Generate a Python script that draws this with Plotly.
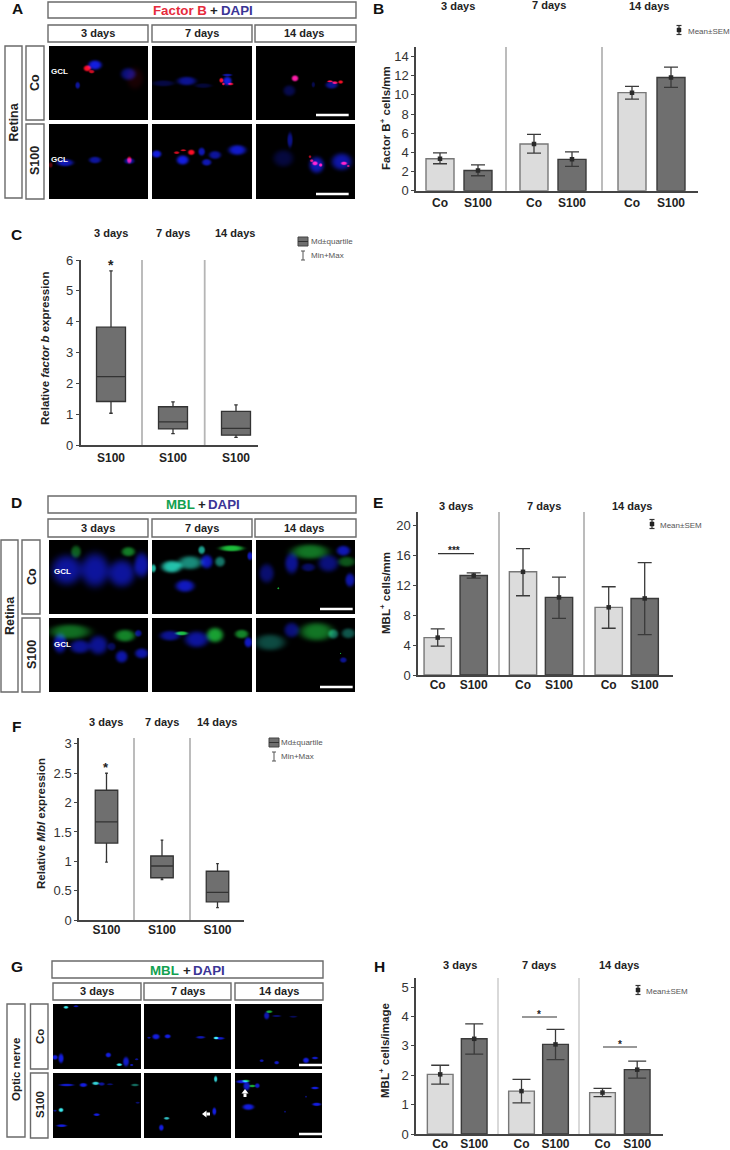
import numpy as np
import plotly.graph_objects as go

W, H = 730, 1150
FONT = "Liberation Sans"
RED, GREEN, INDIGO = "#e62b3c", "#12a150", "#3b3596"
LIGHT, DARK = "#dcdcdc", "#6f6f6f"
AX = "#444444"

# ---------- chart values ----------
DAYS = ["3 days", "7 days", "14 days"]
GROUPS = ["Co", "S100", "Co", "S100", "Co", "S100"]

B_mean = [3.35, 2.12, 4.88, 3.28, 10.24, 11.82]
B_top = [3.96, 2.70, 5.88, 4.07, 10.89, 12.90]
B_low = [2.82, 1.57, 3.93, 2.54, 9.57, 10.78]

E_mean = [5.0, 13.3, 13.8, 10.38, 9.05, 10.24]
E_top = [6.16, 13.66, 16.9, 13.08, 11.8, 15.03]
E_low = [3.86, 12.95, 10.6, 7.58, 6.25, 5.41]

H_mean = [2.03, 3.24, 1.46, 3.05, 1.41, 2.19]
H_top = [2.34, 3.75, 1.86, 3.56, 1.55, 2.48]
H_low = [1.70, 2.72, 1.06, 2.53, 1.27, 1.90]

C_q1 = [1.41, 0.52, 0.32]
C_med = [2.22, 0.75, 0.54]
C_q3 = [3.82, 1.24, 1.09]
C_min = [1.03, 0.37, 0.25]
C_max = [5.65, 1.40, 1.30]

F_q1 = [1.31, 0.72, 0.31]
F_med = [1.67, 0.92, 0.47]
F_q3 = [2.21, 1.09, 0.83]
F_min = [0.985, 0.69, 0.21]
F_max = [2.50, 1.36, 0.96]

# ---------- micrograph blobs: (cx, cy, rx, ry, colour, strength) on a 3x grid ----------
b, r, g, t, c = (20, 30, 225), (255, 15, 40), (30, 190, 60), (40, 215, 190), (60, 235, 240)
IMG_A = [
    [(285, 195, 20, 14, b, 1), (262, 205, 11, 9, r, 1), (275, 215, 8, 5, r, .8), (385, 222, 22, 18, b, .55), (233, 256, 7, 10, b, .7), (405, 235, 25, 32, r, .1)],
    [(560, 243, 28, 13, b, .65), (490, 250, 32, 9, b, .3), (610, 257, 25, 7, b, .25), (682, 243, 13, 13, b, 1), (664, 241, 6, 7, r, 1), (692, 252, 8, 4, r, .9), (670, 252, 4, 4, r, .9), (682, 225, 14, 4, b, .7)],
    [(885, 235, 10, 9, (255, 30, 170), 1), (868, 272, 18, 16, b, .35), (995, 255, 18, 11, b, .65), (990, 244, 8, 3, r, 1), (1005, 248, 8, 4, r, 1), (1022, 246, 7, 5, r, .95), (940, 254, 5, 8, b, .35)],
    [(195, 488, 25, 11, b, .8), (285, 480, 18, 10, b, .7), (388, 483, 15, 9, b, .7), (388, 480, 7, 10, r, .85), (152, 495, 6, 8, r, .35)],
    [(470, 462, 14, 11, b, 1), (548, 480, 18, 14, b, 1), (620, 487, 14, 10, b, .8), (605, 455, 10, 12, b, .8), (645, 465, 18, 12, b, .7), (712, 450, 26, 15, b, .9), (530, 458, 8, 4, r, .8), (550, 451, 8, 3, r, .8), (574, 457, 10, 8, r, 1)],
    [(870, 420, 8, 22, b, .6), (850, 475, 30, 25, b, .28), (950, 495, 22, 24, b, .8), (1025, 485, 30, 25, b, .75), (945, 490, 8, 6, r, 1), (962, 495, 5, 5, r, 1), (935, 482, 5, 4, r, .9), (1032, 490, 9, 5, r, 1), (1045, 498, 4, 3, r, .8), (930, 470, 4, 4, r, .7)],
]
IMG_D = [
    [(200, 270, 45, 44, b, .7), (285, 270, 42, 50, b, .7), (365, 280, 40, 40, b, .7), (425, 255, 22, 36, b, .75), (228, 215, 15, 18, g, .5), (385, 215, 20, 14, g, .65)],
    [(515, 260, 30, 18, t, .9), (570, 248, 35, 20, t, .65), (660, 245, 15, 15, t, .55), (620, 245, 18, 20, b, .85), (555, 318, 28, 18, b, .85), (605, 210, 10, 12, t, .75), (695, 205, 35, 9, g, 1), (750, 228, 8, 12, b, .85), (460, 265, 8, 12, t, .85)],
    [(930, 215, 55, 22, g, .62), (1040, 245, 25, 15, g, .45), (800, 280, 22, 28, b, .5), (875, 250, 20, 30, b, .65), (985, 250, 30, 25, b, .55), (1030, 212, 20, 15, b, .8), (1050, 300, 14, 20, b, .75), (925, 262, 20, 12, b, .45), (835, 325, 3, 3, g, .9)],
    [(210, 455, 60, 22, g, .58), (375, 467, 30, 18, g, .7), (180, 490, 20, 28, b, .75), (240, 500, 30, 20, b, .65), (295, 495, 28, 28, b, .65), (365, 530, 18, 18, b, .75), (425, 520, 20, 15, b, .75), (335, 500, 12, 12, b, .4), (415, 460, 10, 10, b, .65)],
    [(510, 467, 30, 15, b, .65), (590, 478, 35, 24, b, .7), (745, 487, 12, 15, b, .85), (545, 460, 18, 6, g, 1), (645, 465, 25, 22, g, .85), (725, 462, 20, 13, g, .7)],
    [(810, 487, 45, 24, t, .35), (875, 450, 22, 22, b, .55), (1000, 462, 15, 14, t, .45), (1045, 460, 20, 15, t, .4), (1030, 540, 10, 8, b, .65), (950, 455, 50, 27, g, .62), (1022, 520, 2, 2, g, .9)],
]
IMG_G = [
    [(198, 172, 7, 4, c, 1), (228, 169, 7, 3, b, .8), (165, 322, 8, 7, b, 1), (183, 325, 8, 14, b, 1), (325, 315, 8, 7, b, 1), (378, 335, 9, 14, b, .9), (358, 344, 8, 4, c, 1), (410, 328, 5, 3, b, .7), (395, 345, 5, 3, b, .8)],
    [(468, 260, 11, 8, b, 1), (503, 259, 9, 6, b, 1), (602, 262, 13, 4, b, .8), (660, 265, 13, 4, b, .9), (648, 264, 7, 4, c, 1), (447, 263, 5, 3, b, .7)],
    [(808, 185, 9, 4, g, .9), (800, 197, 8, 11, b, .8), (830, 198, 13, 3, b, .5), (880, 200, 11, 3, b, .4), (785, 332, 6, 4, b, .8), (830, 338, 7, 5, b, .9), (918, 331, 9, 8, b, 1), (945, 324, 9, 4, b, .9)],
    [(200, 405, 21, 4, b, .9), (250, 405, 11, 6, b, 1), (287, 400, 10, 5, c, .9), (305, 402, 9, 5, b, .7), (330, 403, 9, 3, b, .5), (405, 405, 11, 4, t, .5), (183, 480, 7, 6, c, 1), (165, 482, 5, 3, b, .6), (290, 494, 9, 4, b, 1), (185, 527, 15, 4, b, 1), (413, 458, 6, 3, b, .5)],
    [(647, 387, 5, 9, c, .9), (643, 484, 6, 11, b, 1), (500, 505, 8, 4, c, .8), (484, 533, 7, 9, b, 1)],
    [(725, 395, 16, 5, b, 1), (740, 408, 10, 13, b, .9), (772, 407, 7, 7, b, .9), (738, 393, 11, 4, g, 1), (757, 408, 9, 4, g, .9), (945, 414, 11, 4, b, 1), (950, 463, 13, 5, b, 1), (745, 471, 17, 9, b, 1), (855, 485, 3, 3, b, .5), (918, 440, 3, 3, b, .5)],
]

fig = go.Figure()
annots, shapes = [], []


def T(x, y, text, size=11, bold=True, color="#222222", angle=0, anchor="center"):
    label = f"<b>{text}</b>" if bold else text
    annots.append(dict(x=x, y=y, xref="x", yref="y", text=label, showarrow=False, xanchor=anchor,
                       yanchor="middle", textangle=angle, font=dict(family=FONT, size=size, color=color),
                       borderpad=0, borderwidth=0))


def BOX(x0, y0, x1, y1, fill="white", line="#6a6a6a", width=1.4):
    shapes.append(dict(type="rect", xref="x", yref="y", x0=x0, y0=y0, x1=x1, y1=y1,
                       fillcolor=fill, line=dict(color=line, width=width)))


def LINE(x0, y0, x1, y1, color="#333333", width=1.2):
    shapes.append(dict(type="line", xref="x", yref="y", x0=x0, y0=y0, x1=x1, y1=y1,
                       line=dict(color=color, width=width)))


def micrograph(x0, y0, x1, y1, blobs, oy):
    w, h = int(x1 - x0), int(y1 - y0)
    yy, xx = np.mgrid[0:h, 0:w]
    img = np.zeros((h, w, 3))
    for cx, cy, rx, ry, col, s in blobs:
        cxp, cyp = cx / 3 - x0, cy / 3 + oy - y0
        d = ((xx + .5 - cxp) / (rx / 3)) ** 2 + ((yy + .5 - cyp) / (ry / 3)) ** 2
        f = np.exp(-d ** 2) * s
        img += f[..., None] * np.array(col)
    arr = np.clip(img, 0, 255).astype(int)
    fig.add_trace(go.Image(z=arr.tolist(), x0=x0 + .5, y0=y0 + .5, dx=1, dy=1, hoverinfo="skip",
                           colormodel="rgb", xaxis="x", yaxis="y"))


def image_block(cols, rows, blobs, oy, bar_x, bar_w):
    for j, (y0, y1) in enumerate(rows):
        for i, (x0, x1) in enumerate(cols):
            micrograph(x0, y0, x1, y1, blobs[j * 3 + i], oy)
        LINE(bar_x, y1 - bar_w, bar_x + (cols[2][1] - cols[2][0]) * .33, y1 - bar_w, "white", 2.5)


def mean_legend(mx, my, tx):
    LINE(mx, my - 4.5, mx, my + 4.5, "#333333", 1.2)
    LINE(mx - 2.5, my - 4.5, mx + 2.5, my - 4.5, "#333333", 1.2)
    LINE(mx - 2.5, my + 4.5, mx + 2.5, my + 4.5, "#333333", 1.2)
    BOX(mx - 2, my - 2, mx + 2, my + 2, "#222222", "#222222", .5)
    T(tx, my + 1, "Mean±SEM", 8, False, "#555555", anchor="left")


def box_legend(x0, y0, tx):
    BOX(x0, y0, x0 + 10, y0 + 9, DARK, "#444444", 1)
    LINE(x0, y0 + 4.5, x0 + 10, y0 + 4.5, "#333333", 1)
    T(tx, y0 + 4.5, "Md±quartile", 8, False, "#555555", anchor="left")
    mx = x0 + 5
    LINE(mx, y0 + 14, mx, y0 + 23, "#555555", 1)
    LINE(mx - 2, y0 + 14, mx + 2, y0 + 14, "#555555", 1)
    LINE(mx - 2, y0 + 23, mx + 2, y0 + 23, "#555555", 1)
    T(tx, y0 + 18.5, "Min+Max", 8, False, "#555555", anchor="left")


def arrow(tip, tail):
    # white block arrow: shaft as a thick line, head as a filled triangle
    tx, ty = tip
    ax, ay = tail
    dx, dy = ax - tx, ay - ty
    n = (dx * dx + dy * dy) ** .5
    ux, uy = dx / n, dy / n
    bx, by = tx + ux * 4.5, ty + uy * 4.5
    px, py = -uy * 3.5, ux * 3.5
    LINE(bx, by, ax, ay, "white", 3)
    shapes.append(dict(type="path", xref="x", yref="y", line=dict(width=0), fillcolor="white",
                       path=f"M {tx} {ty} L {bx + px} {by + py} L {bx - px} {by - py} Z"))


layout = {}
axis_idx = [1]


def axes(x0, x1, ytop, ybase, ytopval, yticks, centers, labels, seps, sepcolor, standoff):
    axis_idx[0] += 1
    i = axis_idx[0]
    layout[f"xaxis{i}"] = dict(domain=[x0 / W, x1 / W], range=[x0, x1], anchor=f"y{i}", tickmode="array",
                               tickvals=centers, ticktext=[f"<b>{s}</b>" for s in labels], automargin=False,
                               tickfont=dict(family=FONT, size=12, color="#222222"), ticks="", showgrid=False,
                               zeroline=False, showline=True, linecolor=AX, linewidth=1.5,
                               ticklabelstandoff=standoff, fixedrange=True)
    layout[f"yaxis{i}"] = dict(domain=[1 - ybase / H, 1 - ytop / H], range=[0, ytopval], anchor=f"x{i}", tickmode="array",
                               tickvals=yticks, ticks="outside", ticklen=3, tickcolor=AX, tickwidth=1, automargin=False,
                               tickfont=dict(family=FONT, size=13, color="#333333"), showgrid=False,
                               zeroline=False, showline=True, linecolor=AX, linewidth=1.5, fixedrange=True)
    for s in seps:
        shapes.append(dict(type="line", xref=f"x{i}", yref=f"y{i} domain", x0=s, x1=s, y0=0, y1=1,
                           line=dict(color=sepcolor, width=1.8), layer="below"))
    return f"x{i}", f"y{i}"


def barchart(geom, width, capw, mean, top, low):
    xa, ya = axes(*geom)
    centers = geom[6]
    for start, fill, edge in ((0, LIGHT, "#777777"), (1, DARK, "#3a3a3a")):
        fig.add_trace(go.Bar(x=centers[start::2], y=mean[start::2], width=width,
                             marker=dict(color=fill, line=dict(color=edge, width=1.4)), xaxis=xa, yaxis=ya))
    fig.add_trace(go.Scatter(x=centers, y=mean, mode="markers", xaxis=xa, yaxis=ya,
                             marker=dict(symbol="square", size=4.5, color="#2a2a2a"),
                             error_y=dict(type="data", symmetric=False,
                                          array=[u - m for u, m in zip(top, mean)],
                                          arrayminus=[m - l for m, l in zip(mean, low)],
                                          color="#3a3a3a", thickness=1.3, width=capw)))


def boxchart(geom, width, q1, med, q3, lo, hi):
    xa, ya = axes(*geom)
    fig.add_trace(go.Box(x=geom[6], q1=q1, median=med, q3=q3, lowerfence=lo, upperfence=hi, width=width,
                         whiskerwidth=.12, boxpoints=False, fillcolor=DARK, line=dict(color="#333333", width=1.3),
                         xaxis=xa, yaxis=ya))


# ---------- canvas (full page, pixel space) ----------
layout["xaxis"] = dict(domain=[0, 1], range=[0, W], visible=False, fixedrange=True, automargin=False)
layout["yaxis"] = dict(domain=[0, 1], range=[H, 0], visible=False, fixedrange=True, automargin=False)

# --- Panel A ---
T(17, 8, "A", 15.5, color="#111111")
BOX(48, 2, 356, 18)
T(152.7, 10.5, "Factor B", 13.3, color=RED, anchor="left")
T(214, 10.5, "+", 13.3)
T(221, 10.5, "DAPI", 13.3, color=INDIGO, anchor="left")
cols_a = [(49, 148), (152, 252), (256, 355)]
for (x0, x1), d, xb in zip(cols_a, DAYS, [(48, 148), (152, 252), (255, 356)]):
    BOX(xb[0], 25, xb[1], 42)
    T((xb[0] + xb[1]) / 2 - (2 if d == "14 days" else 0), 33, d, 11)
BOX(5, 46, 22, 198); T(13.5, 122, "Retina", 12.5, angle=-90)
BOX(26, 46, 44, 120); T(35, 83, "Co", 12.5, angle=-90)
BOX(26, 124, 44, 199); T(35, 161, "S100", 12.5, angle=-90)
image_block(cols_a, [(46, 120), (124, 199)], IMG_A, 0, 316, 5)
T(59, 71, "GCL", 8, color="white"); T(59, 159, "GCL", 8, color="white")

# --- Panel B ---
T(378, 8, "B", 15.5, color="#111111")
for x, y, d in zip((458, 549, 649), (6, 5, 6), DAYS):
    T(x, y, d, 11)
mean_legend(679, 30, 688)
T(385, 118, "Factor B<sup>+</sup> cells/mm", 11.5, angle=-90)
barchart((416, 698, 47, 190.8, 15.0, [0, 2, 4, 6, 8, 10, 12, 14], [440, 478, 534, 572, 632, 671], GROUPS,
          [506, 602], "#b5b5b5", 0), 28, 7, B_mean, B_top, B_low)

# --- Panel C ---
T(16, 234, "C", 15.5, color="#111111")
for x, d in zip((111, 173, 235), DAYS):
    T(x, 233, d, 11)
box_legend(298, 237, 311)
T(45, 349, "Relative <i>factor b</i> expression", 11.5, angle=-90)
T(111, 265, "*", 14)
boxchart((80.7, 258, 260, 445, 6, [0, 1, 2, 3, 4, 5, 6], [111, 173, 236], ["S100"] * 3,
          [142, 204.7], "#b5b5b5", 1), 29, C_q1, C_med, C_q3, C_min, C_max)

# --- Panel D ---
T(16, 502, "D", 15.5, color="#111111")
BOX(48, 496, 356, 513)
T(165.7, 504.5, "MBL", 13.3, color=GREEN, anchor="left")
T(202, 504.5, "+", 13.3)
T(208, 504.5, "DAPI", 13.3, color=INDIGO, anchor="left")
for (x0, x1), d, xb in zip(cols_a, DAYS, [(48, 148), (152, 252), (255, 356)]):
    BOX(xb[0], 519, xb[1], 537)
    T((xb[0] + xb[1]) / 2 - (2 if d == "14 days" else 0), 527.5, d, 11)
BOX(1, 540, 18, 692); T(10, 616, "Retina", 12.5, angle=-90)
BOX(22, 540, 40, 614); T(32, 577, "Co", 12.5, angle=-90)
BOX(22, 618, 40, 692); T(32, 655, "S100", 12.5, angle=-90)
image_block(cols_a, [(540, 614), (618, 692)], IMG_D, 480, 320, 5)
T(62, 571, "GCL", 8, color="white"); T(62, 644, "GCL", 8, color="white")

# --- Panel E ---
T(378, 502, "E", 15.5, color="#111111")
for x, d in zip((456, 544, 632), DAYS):
    T(x, 506, d, 11)
mean_legend(652, 524, 660)
T(385, 593, "MBL<sup>+</sup> cells/mm", 11.5, angle=-90)
barchart((418, 673, 512, 675, 21.8, [0, 4, 8, 12, 16, 20], [437.7, 473.7, 523, 559, 608.7, 644.7], GROUPS,
          [499, 584], "#b5b5b5", -2), 27.3, 7, E_mean, E_top, E_low)
LINE(438, 553.7, 474, 553.7)
T(454, 550, "***", 10)

# --- Panel F ---
T(16, 726, "F", 15.5, color="#111111")
for x, d in zip((106, 162, 217), DAYS):
    T(x, 722, d, 11)
box_legend(269, 738, 281)
T(41, 824, "Relative <i>Mbl</i> expression", 11.5, angle=-90)
T(106, 767, "*", 13)
boxchart((79, 244, 738, 920, 3.1, [0, .5, 1, 1.5, 2, 2.5, 3], [106.5, 162, 217.5], ["S100"] * 3,
          [134, 190], "#b5b5b5", -2), 22.5, F_q1, F_med, F_q3, F_min, F_max)

# --- Panel G ---
T(17, 966, "G", 15.5, color="#111111")
BOX(52, 961, 323, 978)
T(150, 970, "MBL", 13.3, color=GREEN, anchor="left")
T(187, 970, "+", 13.3)
T(193, 970, "DAPI", 13.3, color=INDIGO, anchor="left")
cols_g = [(53, 141), (144, 231), (235, 322)]
for d, xb in zip(DAYS, [(53, 141), (144, 231), (235, 323)]):
    BOX(xb[0], 983, xb[1], 1000)
    T((xb[0] + xb[1]) / 2, 991, d, 11)
BOX(7, 1004, 25, 1137); T(16, 1070, "Optic nerve", 11.5, angle=-90)
BOX(30.5, 1004, 48, 1069); T(40, 1037, "Co", 11.5, angle=-90)
BOX(30.5, 1073, 48, 1138); T(40, 1105, "S100", 11.5, angle=-90)
image_block(cols_g, [(1004, 1069), (1073, 1138)], IMG_G, 950, 299, 4)
arrow((202, 1114), (210, 1114))
arrow((245, 1089), (245, 1097))

# --- Panel H ---
T(379, 966, "H", 15.5, color="#111111")
for x, d in zip((460, 539, 619), DAYS):
    T(x, 965, d, 11)
mean_legend(638, 990, 646)
T(384, 1051, "MBL<sup>+</sup> cells/image", 11.5, angle=-90)
barchart((416, 663, 978, 1134, 5.31, [0, 1, 2, 3, 4, 5], [440.2, 474.2, 521.5, 555.5, 602.5, 637.2], GROUPS,
          [498, 579], "#d5d5d5", -2), 25.7, 9, H_mean, H_top, H_low)
LINE(522, 1017, 557, 1017)
T(539, 1014, "*", 10)
LINE(603, 1047, 637, 1047, "#777777", 1.4)
T(620, 1044, "*", 10)

fig.update_layout(width=W, height=H, margin=dict(l=0, r=0, t=0, b=0, pad=0, autoexpand=False), paper_bgcolor="white",
                  plot_bgcolor="rgba(0,0,0,0)", template="none",
                  showlegend=False, annotations=annots, shapes=shapes, font=dict(family=FONT), barmode="overlay",
                  **layout)
fig.write_html("out.html", config=dict(displayModeBar=False),
               post_script="document.body.style.margin='0';document.documentElement.style.overflow='hidden';")
